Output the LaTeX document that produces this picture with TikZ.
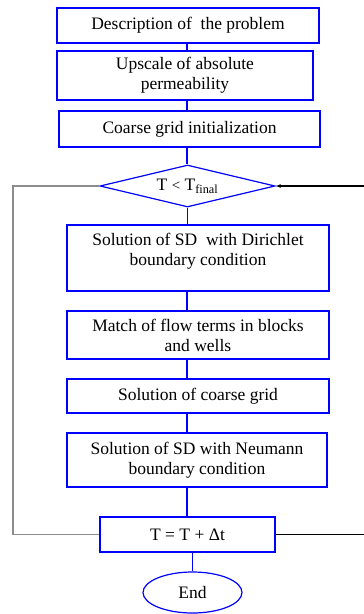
\documentclass[tikz,border=0pt]{standalone}
\usepackage{fontspec}
\setmainfont{Liberation Serif}
\usetikzlibrary{shapes.geometric, arrows.meta}

\begin{document}
\begin{tikzpicture}[
  x=1pt, y=-1pt,
  font=\fontsize{17.5}{20}\selectfont,
  stepbox/.style={rectangle, draw=blue, line width=1.4pt, align=center, inner sep=2pt},
  test/.style={diamond, draw=blue, line width=1.2pt, aspect=4.2, inner sep=0pt, minimum width=175pt, minimum height=42pt},
  stop/.style={ellipse, draw=blue, line width=1.2pt, minimum width=99pt, minimum height=41pt, inner sep=0pt},
  link/.style={draw=blue, line width=1.4pt},
  loop/.style={line width=1.2pt}
]
\useasboundingbox (0,0) rectangle (364,614);

% Nodes
\node[stepbox, minimum width=262pt, minimum height=35pt] (desc) at (188,25.5) {Description of \ the problem};
\node[stepbox, minimum width=256pt, minimum height=49pt] (upsc) at (185,75.5) {Upscale of absolute\\permeability};
\node[stepbox, minimum width=261pt, minimum height=36pt] (init) at (189.5,129) {Coarse grid initialization};
\node[test] (cond) at (187.5,186) {T {\fontsize{15}{15}\selectfont<} T\textsubscript{final}};
\node[stepbox, minimum width=262pt, minimum height=66pt, text depth=18pt] (diri) at (198,258) {Solution of SD \ with Dirichlet\\boundary condition};
\node[stepbox, minimum width=262pt, minimum height=48pt] (match) at (198,335) {Match of flow terms in blocks\\and wells};
\node[stepbox, minimum width=262pt, minimum height=34pt] (coarse) at (198,396) {Solution of coarse grid};
\node[stepbox, minimum width=260pt, minimum height=54pt] (neum) at (197,460) {Solution of SD with Neumann\\boundary condition};
\node[stepbox, minimum width=175pt, minimum height=35pt] (incr) at (187.5,534.5) {T = T + Δt};
\node[stop] (end) at (192.5,592.5) {End};

\coordinate (spine) at (187,0);
\coordinate (lc) at (13,0);
\coordinate (rc) at (365,0);

% Arrows
\draw[link] (desc.south -| spine) -- (upsc.north -| spine);
\draw[link] (upsc.south -| spine) -- (init.north -| spine);
\draw[link] (init.south -| spine) -- (cond.north -| spine);
\draw[link] (cond.south) -- (diri.north -| cond.south);
\draw[link] (diri.south -| spine) -- (match.north -| spine);
\draw[link] (match.south -| spine) -- (coarse.north -| spine);
\draw[link] (coarse.south -| spine) -- (neum.north -| spine);
\draw[link] (neum.south -| spine) -- (incr.north -| spine);
\draw[link] (end.north |- incr.south) -- (end.north);

% loop back
\draw[loop, draw=black!45] (cond.west) -- (cond.west -| lc) -- (incr.west -| lc) -- (incr.west);
\draw[loop, -{Latex[length=5pt,width=4pt]}] (incr.east) -- (incr.east -| rc) -- (cond.east -| rc) -- (cond.east);

\end{tikzpicture}
\end{document}
